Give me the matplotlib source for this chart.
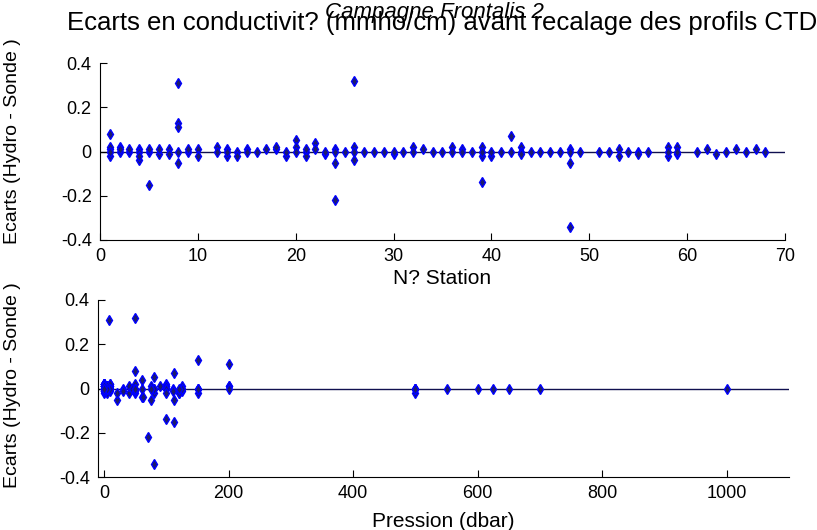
import matplotlib
matplotlib.use('Agg')
import matplotlib.pyplot as plt
import numpy as np

plt.rcParams['font.family'] = ['Liberation Sans', 'DejaVu Sans']

# station number, pressure (dbar) and conductivity difference for each sample
station = [
    1, 1, 1, 1, 1,
    2, 2, 2,
    3, 3,
    4, 4, 4, 4,
    5, 5, 5,
    6, 6,
    7, 7,
    8, 8, 8, 8, 8,
    9, 9,
    10, 10,
    12, 12,
    13, 13, 13,
    14, 14,
    15, 15,
    16, 17,
    18, 18,
    19, 19,
    20, 20, 20,
    21, 21, 21,
    22, 22,
    23, 23,
    24, 24, 24, 24,
    25,
    26, 26, 26, 26,
    27, 28, 29,
    30, 30,
    31,
    32, 32,
    33, 34, 35,
    36, 36,
    37, 37,
    38,
    39, 39, 39, 39,
    40, 40,
    41,
    42, 42,
    43, 43, 43,
    44, 45, 46, 47,
    48, 48, 48, 48,
    49, 51, 52,
    53, 53,
    54,
    55, 55,
    56,
    58, 58, 58,
    59, 59, 59,
    61, 62, 63, 64, 65, 66, 67, 68,
]
pression = [
    0, 5, 10, 50, 100,
    0, 30, 125,
    5, 75,
    0, 60, 110, 150,
    0, 112, 200,
    10, 90,
    5, 125,
    8, 150, 200, 20, 50,
    0, 100,
    10, 120,
    0, 80,
    5, 40, 125,
    0, 120,
    10, 150,
    0, 40,
    5, 100,
    0, 60,
    80, 50, 125,
    10, 80, 200,
    60, 100,
    0, 45,
    70, 75, 0, 150,
    10,
    50, 62, 0, 200,
    5, 0, 100,
    0, 120,
    10,
    0, 80,
    5, 50, 0,
    10, 100,
    0, 150,
    500,
    100, 0, 50, 500,
    500, 0,
    550,
    112, 500,
    0, 600, 110,
    500, 625, 0, 650,
    80, 112, 0, 700,
    500, 0, 1000,
    0, 100,
    10,
    0, 50,
    5,
    0, 20, 50,
    0, 30, 75,
    0, 5, 0, 10, 0, 5, 0, 0,
]
ecart = [
    0.01, -0.02, 0.02, 0.08, 0.00,
    0.02, 0.00, 0.01,
    0.00, 0.01,
    0.01, -0.04, 0.00, -0.02,
    0.00, -0.15, 0.01,
    -0.01, 0.01,
    0.01, -0.01,
    0.31, 0.13, 0.11, -0.05, 0.00,
    0.00, 0.01,
    0.01, -0.02,
    0.02, 0.00,
    0.01, -0.02, 0.00,
    0.00, -0.02,
    0.01, 0.00,
    0.00, 0.01,
    0.01, 0.02,
    -0.02, 0.00,
    0.05, 0.02, 0.00,
    0.00, -0.02, 0.01,
    0.04, 0.01,
    -0.01, 0.00,
    -0.22, -0.05, 0.01, 0.00,
    0.00,
    0.32, -0.04, 0.02, 0.00,
    0.00, 0.00, 0.00,
    -0.01, 0.00,
    0.00,
    0.02, 0.00,
    0.01, 0.00, 0.00,
    0.02, 0.00,
    0.01, 0.00,
    0.00,
    -0.14, 0.02, -0.02, 0.00,
    -0.02, 0.00,
    0.00,
    0.07, 0.00,
    0.02, 0.00, -0.01,
    0.00, 0.00, 0.00, 0.00,
    -0.34, -0.05, 0.01, 0.00,
    0.00, 0.00, 0.00,
    0.01, -0.02,
    0.00,
    0.00, -0.01,
    0.00,
    0.02, -0.02, 0.00,
    0.02, -0.01, 0.00,
    0.00, 0.01, -0.01, 0.00, 0.01, 0.00, 0.01, 0.00,
]

yticks = [-0.4, -0.2, 0, 0.2, 0.4]
yticklabels = ['-0.4', '-0.2', '0', '0.2', '0.4']

fig = plt.figure(figsize=(8.17, 5.3), dpi=100)
ax1 = fig.add_axes([100/817, 1 - 240/530, 685/817, 177/530])
ax2 = fig.add_axes([98/817, 1 - 477/530, 691/817, 177/530])

marker_kw = dict(linestyle='none', marker='d', markersize=5.5,
                 markerfacecolor='#1c1c6c', markeredgecolor='#0000ff',
                 markeredgewidth=1.0)

ax1.axhline(0, color='#101050', lw=1.0, zorder=1)
ax1.plot(station, ecart, **marker_kw)
ax1.set_xlim(0, 70)
ax1.set_xticks(range(0, 71, 10))

ax2.axhline(0, color='#101050', lw=1.0, zorder=1)
ax2.plot(pression, ecart, **marker_kw)
ax2.set_xlim(-10, 1100)
ax2.set_xticks(range(0, 1001, 200))

for ax in (ax1, ax2):
    ax.set_ylim(-0.4, 0.4)
    ax.set_yticks(yticks)
    ax.set_yticklabels(yticklabels)
    ax.spines['top'].set_visible(False)
    ax.spines['right'].set_visible(False)
    ax.tick_params(direction='in', length=5, labelsize=13, pad=6)
    ax.set_ylabel('Ecarts (Hydro - Sonde )', fontsize=14)

ax1.yaxis.set_label_coords(-0.115, 0.56)
ax2.yaxis.set_label_coords(-0.111, 0.52)

ax1.set_title('Ecarts en conductivit? (mmho/cm) avant recalage des profils CTD',
              fontsize=18.5, pad=24)
ax1.set_xlabel('N? Station', fontsize=15, labelpad=3)
ax2.set_xlabel('Pression (dbar)', fontsize=15, labelpad=7)

fig.text(0.532, 0.966, 'Campagne Frontalis 2', fontsize=16, style='italic',
         ha='center', va='baseline')

fig.savefig('out.png', dpi=100)
